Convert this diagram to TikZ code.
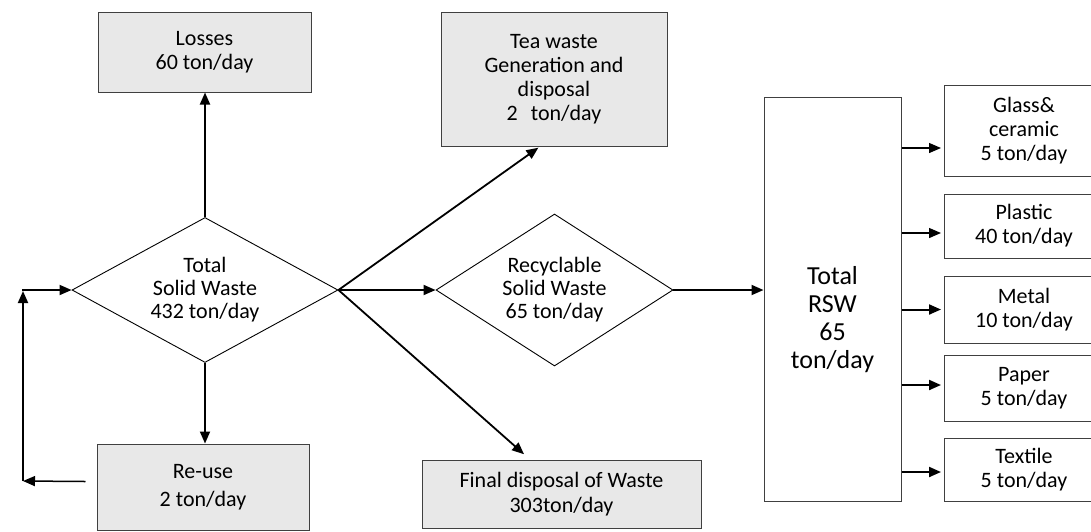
\documentclass[tikz,border=0pt]{standalone}
\usepackage{fontspec}
\setmainfont{Carlito}
\usetikzlibrary{shapes.geometric,arrows.meta}
\tikzset{
	graybox/.style={draw=black!75,fill=black!9,line width=1pt,align=center,inner sep=0pt,font=\fontsize{22}{24}\selectfont},
	whitebox/.style={draw=black!75,line width=1pt,align=center,inner sep=0pt,font=\fontsize{22}{24}\selectfont},
	choice/.style={diamond,draw,line width=0.9pt,align=center,inner sep=0pt,aspect=1.8,font=\fontsize{22}{23}\selectfont},
	arr/.style={-{Triangle[length=12pt,width=10pt]},line width=1.8pt},
}

\begin{document}
\begin{tikzpicture}[x=1pt,y=-1pt]
	\useasboundingbox (0,0) rectangle (1091,531);
	\node[graybox,minimum width=213,minimum height=80] (loss) at (204.5,52) {Losses\\60 ton/day};
	\node[graybox,minimum width=226,minimum height=134] (tea) at (554,79) {Tea waste\\Generation and\\disposal\\2\hspace{13pt}ton/day};
	\node[choice,minimum width=266,minimum height=145] (total) at (205,290) {Total\\Solid Waste\\432 ton/day};
	\node[choice,minimum width=237,minimum height=152] (recyc) at (554.5,290) {Recyclable\\Solid Waste\\65 ton/day};
	\node[graybox,minimum width=212,minimum height=86,font=\fontsize{22}{28}\selectfont] (reuse) at (203,487) {Re-use\\2 ton/day};
	\node[graybox,minimum width=279,minimum height=68,font=\fontsize{22}{25}\selectfont] (final) at (561.5,494) {Final disposal of Waste\\303ton/day};
	\node[whitebox,minimum width=137,minimum height=404] (rsw) at (832.5,299) {};
	\node[align=center,font=\fontsize{26}{28}\selectfont] (rswtext) at (832.5,320) {Total\\RSW\\65\\ton/day};
	\node[whitebox,minimum width=159,minimum height=91] (glass) at (1024,130.5) {Glass\&\\ceramic\\5 ton/day};
	\node[whitebox,minimum width=159,minimum height=64] (plastic) at (1024,226) {Plastic\\40 ton/day};
	\node[whitebox,minimum width=159,minimum height=67] (metal) at (1024,309.5) {Metal\\10 ton/day};
	\node[whitebox,minimum width=159,minimum height=66] (paper) at (1024,388) {Paper\\5 ton/day};
	\node[whitebox,minimum width=159,minimum height=63] (textile) at (1024,469.5) {Textile\\5 ton/day};
	\coordinate (fb) at (23,481);

	\draw[arr] (total.north) -- (total.north |- loss.south);
	\draw[arr] (total.south) -- (total.south |- reuse.north);
	\draw[arr,shorten >=2pt] (total.east) -- ([xshift=-14pt]tea.south);
	\draw[arr] (total.east) -- (recyc.west);
	\draw[arr,shorten >=8pt] (total.east) -- ([xshift=-31.5pt]final.north);
	\draw[arr] (recyc.east) -- (recyc.east -| rsw.west);
	\draw[arr,line width=1.5pt] ([xshift=-11pt,yshift=5.5pt]reuse.west) -- (fb);
	\draw[arr,shorten >=1pt] (fb) -- (fb |- total.west);
	\draw[arr] ([xshift=-1pt]fb |- total.west) -- (total.west);
	\foreach \b/\s/\w in {glass/-17.5/1.3,plastic/-7/1.3,metal/0/2,paper/3/2,textile/-2.5/2}{
		\coordinate (in) at ([yshift=\s pt]\b.west);
		\draw[arr,line width=\w pt,shorten >=3pt] (in -| rsw.east) -- (in);
	}
\end{tikzpicture}
\end{document}
